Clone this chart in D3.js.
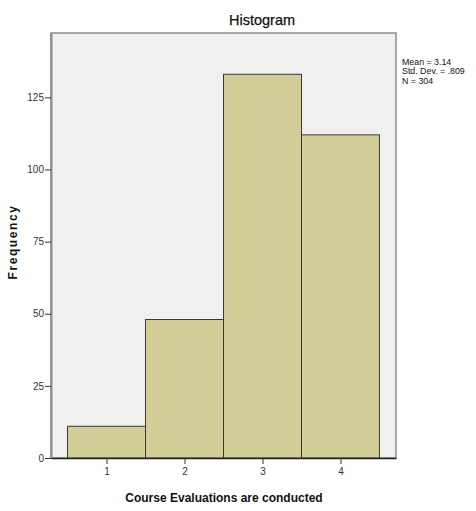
<!DOCTYPE html>
<html>
<head>
<meta charset="utf-8">
<script src="https://cdn.jsdelivr.net/npm/d3@7"></script>
<style>
  html, body { margin: 0; padding: 0; background: #ffffff; }
  svg { display: block; font-family: Arial, "Liberation Sans", sans-serif; }
</style>
</head>
<body>
<svg id="chart" width="476" height="511"></svg>
<script>
// Response categories (bin centres) and frequencies
const categories = [1, 2, 3, 4];
const frequencies = [11, 48, 133, 112];
const yTicks = [0, 25, 50, 75, 100, 125];
const statsLines = ["Mean = 3.14", "Std. Dev. = .809", "N = 304"];
const chartTitle = "Histogram";
const xTitle = "Course Evaluations are conducted";
const yTitle = "Frequency";

const svg = d3.select("#chart");
const plot = { left: 51, right: 396, top: 33, bottom: 458 };

const x = d3.scaleLinear().domain([0.288, 4.712]).range([plot.left, plot.right]);
const y = d3.scaleLinear().domain([0, 147.3]).range([plot.bottom, plot.top]);

// plot background
svg.append("rect")
  .attr("x", plot.left).attr("y", plot.top)
  .attr("width", plot.right - plot.left).attr("height", plot.bottom - plot.top)
  .attr("fill", "#f0f0f0")
  .attr("stroke", "#8c8c8c").attr("stroke-width", 1.5);

// bars, one unit wide around each category
svg.append("g").selectAll("rect")
  .data(categories.map((c, i) => ({ c, f: frequencies[i] })))
  .join("rect")
  .attr("x", d => x(d.c - 0.5))
  .attr("y", d => y(d.f))
  .attr("width", d => x(d.c + 0.5) - x(d.c - 0.5))
  .attr("height", d => y(0) - y(d.f))
  .attr("fill", "#d3ce98")
  .attr("stroke", "#3a3a30")
  .attr("stroke-width", 1);

// y axis
const yAxis = svg.append("g")
  .attr("transform", `translate(${plot.left},0)`)
  .call(d3.axisLeft(y).tickValues(yTicks).tickSize(6).tickPadding(1).tickSizeOuter(0));
yAxis.select(".domain").attr("stroke", "#8c8c8c").attr("stroke-width", 2);
yAxis.selectAll(".tick line").attr("stroke", "#333");
yAxis.selectAll(".tick text").attr("fill", "#333").style("font-size", "10px");

// x axis
const xAxis = svg.append("g")
  .attr("transform", `translate(0,${plot.bottom})`)
  .call(d3.axisBottom(x).tickValues(categories).tickFormat(d3.format("d")).tickSize(6).tickPadding(4).tickSizeOuter(0));
xAxis.select(".domain").attr("stroke", "#222").attr("stroke-width", 1.5);
xAxis.selectAll(".tick line").attr("stroke", "#333");
xAxis.selectAll(".tick text").attr("fill", "#333").style("font-size", "10px");

// titles
svg.append("text")
  .attr("x", 262).attr("y", 25)
  .attr("text-anchor", "middle")
  .style("font-size", "14.5px")
  .attr("fill", "#111")
  .attr("stroke", "#111").attr("stroke-width", 0.25)
  .text(chartTitle);

svg.append("text")
  .attr("x", 224).attr("y", 502)
  .attr("text-anchor", "middle")
  .style("font-size", "12px").style("font-weight", "bold")
  .attr("fill", "#111")
  .text(xTitle);

svg.append("text")
  .attr("transform", "translate(17,242) rotate(-90)")
  .attr("text-anchor", "middle")
  .style("font-size", "12px").style("font-weight", "bold").style("letter-spacing", "1.6px")
  .attr("fill", "#111")
  .text(yTitle);

// summary statistics, set in a slightly condensed face
svg.append("g")
  .attr("transform", "translate(402,0) scale(0.9,1)")
  .selectAll("text")
  .data(statsLines)
  .join("text")
  .attr("x", 0)
  .attr("y", (d, i) => 65 + i * 9.5)
  .style("font-size", "9.8px")
  .attr("fill", "#111")
  .text(d => d);
</script>
</body>
</html>
